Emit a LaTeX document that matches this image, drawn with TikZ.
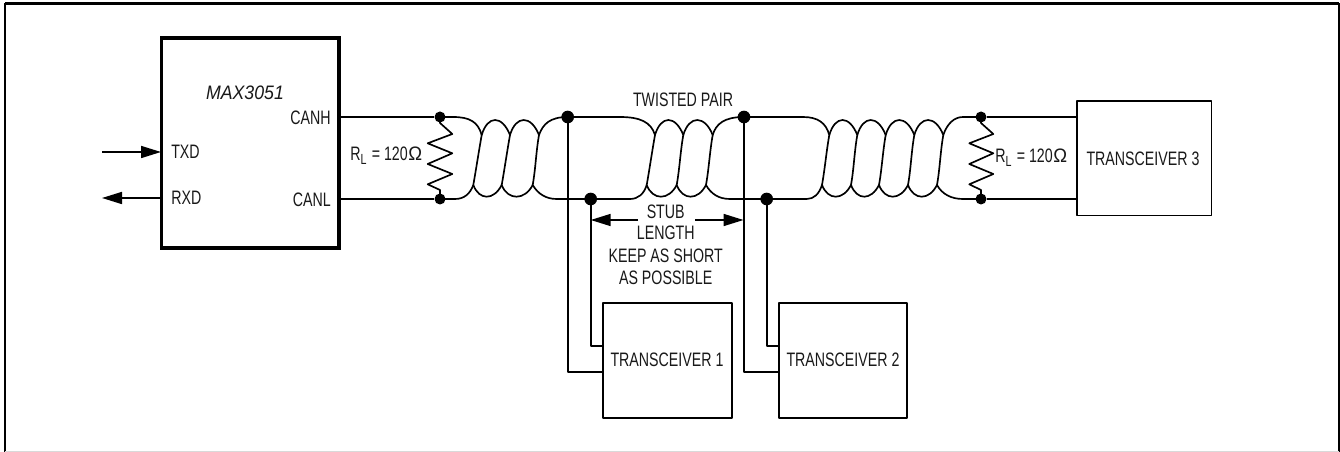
\documentclass[tikz,border=0pt]{standalone}
\usepackage{fontspec}
\setmainfont{Liberation Sans}[FakeStretch=0.73]
\newfontfamily\chipfont{Liberation Sans}[FakeStretch=0.91]
\usetikzlibrary{arrows.meta}
\tikzset{
  x=0.75pt,y=-0.75pt,
  every node/.style={font=\fontsize{14.6pt}{17pt}\selectfont,inner sep=0pt,text=black!90},
  wire/.style={line width=1.25pt,black,line join=round},
  smalldot/.style={circle,fill=black,minimum size=8.25pt},
  bigdot/.style={circle,fill=black,minimum size=9.5pt},
  head/.style={-{Triangle[length=15pt,width=9pt]}},
}
\newcommand{\lobes}[2]{%
  \foreach \a/\b in {#1}{\draw[wire] (\a,135) .. controls (\a+6,115) and (\b-8,115) .. (\b,135);}
  \foreach \a/\b in {#2}{\draw[wire] (\a,185) .. controls (\a+6,200.6) and (\b-8,200.6) .. (\b,185);}
}
\newcommand{\strand}[2]{\draw[wire] (#1,135) .. controls (#1-3,152) and (#2+3,168) .. (#2,185);}
\newcommand{\rlabel}{R\raisebox{-3pt}{\fontsize{11pt}{12pt}\selectfont L}\hspace{1pt} = 120\hspace{0.5pt}\scalebox{1.3}[1]{Ω}}
\begin{document}
\begin{tikzpicture}
\useasboundingbox (0,0) rectangle (1340,452);
\fill[white] (0,0) rectangle (1340,452);
\draw[line width=1.6pt] (5,3.5) -- (1339,3.5);
\draw[line width=1.6pt] (5,3.5) -- (5,452);
\draw[line width=1.6pt] (1339,3.5) -- (1339,452);
\draw[line width=0.5pt,black!15] (5,451.5) -- (1339,451.5);

% main blocks
\draw[line width=2.6pt] (161.5,38) rectangle (339,248);
\node[anchor=center,font=\fontsize{14.6pt}{17pt}\chipfont\itshape] (chip) at (245,93) {MAX3051};
\coordinate (chipH) at (339,117);
\coordinate (chipL) at (339,199);
\coordinate (chipT) at (161,152);
\coordinate (chipR) at (161,198);
\coordinate (inT) at (102,152);
\coordinate (outR) at (102,198);
\node[anchor=west] (txd) at (171,152) {TXD};
\node[anchor=west] (rxd) at (171,198) {RXD};
\node[anchor=east] (canh) at (331,118) {CANH};
\node[anchor=east] (canl) at (331,200) {CANL};
\draw[wire,head] (inT) -- (chipT);
\draw[wire,head] (chipR) -- (outR);

% transceivers
\draw[wire] (602.7,303.3) rectangle (731.7,418.3);
\draw[wire] (778.7,303.3) rectangle (907.3,418.3);
\draw[wire] (1076.7,101) rectangle (1211.5,215.5);
\coordinate (oneA) at (602.7,345.7);
\coordinate (oneB) at (602.7,371.7);
\coordinate (twoA) at (778.7,345.7);
\coordinate (twoB) at (778.7,371.7);
\coordinate (threeH) at (1076.7,117);
\coordinate (threeL) at (1076.7,199);
\node (tr1) at (667,360) {TRANSCEIVER 1};
\node (tr2) at (843,360) {TRANSCEIVER 2};
\node (tr3) at (1143,159) {TRANSCEIVER 3};

% junctions
\node[smalldot] (la) at (440,117) {};
\node[smalldot] (lb) at (440,199) {};
\node[bigdot] (s1h) at (567.7,117) {};
\node[bigdot] (s1l) at (590.7,199) {};
\node[bigdot] (s2h) at (744,117) {};
\node[bigdot] (s2l) at (766.7,199) {};
\node[smalldot] (ra) at (981,117) {};
\node[smalldot] (rb) at (981,199) {};

% straight ends
\draw[wire] (chipH) -- (la);
\draw[wire] (chipL) -- (lb);
\draw[wire] (ra) -- (threeH);
\draw[wire] (rb) -- (threeL);

% stubs
\draw[wire] (s1h.center) |- (oneB);
\draw[wire] (s1l.center) |- (oneA);
\draw[wire] (s2h.center) |- (twoB);
\draw[wire] (s2l.center) |- (twoA);

% resistors
\draw[wire] (la.center) -- (440,123) -- (452.3,134) -- (427.7,143.3) -- (452.3,153.3) -- (427.7,164) -- (452.3,174) -- (427.7,184.3) -- (440,190) -- (lb.center);
\draw[wire] (ra.center) -- (981,123) -- (993.3,134) -- (969.3,143.3) -- (993.3,153.3) -- (969.3,164) -- (993.3,174) -- (969.3,184.3) -- (981,190) -- (rb.center);

% twisted pair, wire runs
\draw[wire] (la.center) -- (453,117) .. controls (470,117) and (478,122) .. (481.7,135);
\draw[wire] (lb.center) -- (455,199) .. controls (464,199) and (470,194) .. (473.3,185);
\draw[wire] (539,135) .. controls (543,124) and (550,117) .. (s1h.center);
\draw[wire] (532.7,185) .. controls (538,194) and (546,199) .. (556.7,199) -- (s1l.center);
\draw[wire] (s1h.center) -- (620,117) .. controls (640,117) and (651,122) .. (655,135);
\draw[wire] (s1l.center) -- (630,199) .. controls (638,199) and (644,194) .. (646.7,185);
\draw[wire] (712.7,135) .. controls (716,124) and (724,117) .. (s2h.center);
\draw[wire] (706,185) .. controls (711,194) and (719,199) .. (730,199) -- (s2l.center);
\draw[wire] (s2h.center) -- (803,117) .. controls (818,117) and (826,123) .. (829.3,135);
\draw[wire] (s2l.center) -- (806.7,199) .. controls (814,199) and (819,194) .. (822,185);
\draw[wire] (943.3,135) .. controls (947,124) and (954,117) .. (963,117) -- (ra.center);
\draw[wire] (937,185) .. controls (942,194) and (951,199) .. (963,199) -- (rb.center);

% twisted pair, lobes
\lobes{481.7/510,510/539}{473.3/501.7,501.7/532.7}
\lobes{655/683.3,683.3/712.7}{646.7/676.7,676.7/706}
\lobes{829.3/857.3,857.3/885.7,885.7/914.3,914.3/943.3}{822/851,851/879,879/908,908/937}
\foreach \t/\b in {481.7/473.3,510/501.7,539/532.7,655/646.7,683.3/676.7,712.7/706,829.3/822,857.3/851,885.7/879,914.3/908,943.3/937}{\strand{\t}{\b}}

% labels
\node (twist) at (683,100) {TWISTED PAIR};
\node[anchor=west] (rl1) at (350,156) {\rlabel};
\node[anchor=west] (rl2) at (995,158) {\rlabel};
\node (st1) at (665.7,211.7) {STUB};
\node (st2) at (665.7,232.7) {LENGTH};
\node (st3) at (665.7,255.7) {KEEP AS SHORT};
\node (st4) at (665.7,277.7) {AS POSSIBLE};
\coordinate (stubL) at (590.7,220);
\coordinate (stubR) at (743.5,220);
\coordinate (gapL) at (638,220);
\coordinate (gapR) at (695,220);
\draw[wire,head] (gapL) -- (stubL);
\draw[wire,head] (gapR) -- (stubR);
\end{tikzpicture}
\end{document}
